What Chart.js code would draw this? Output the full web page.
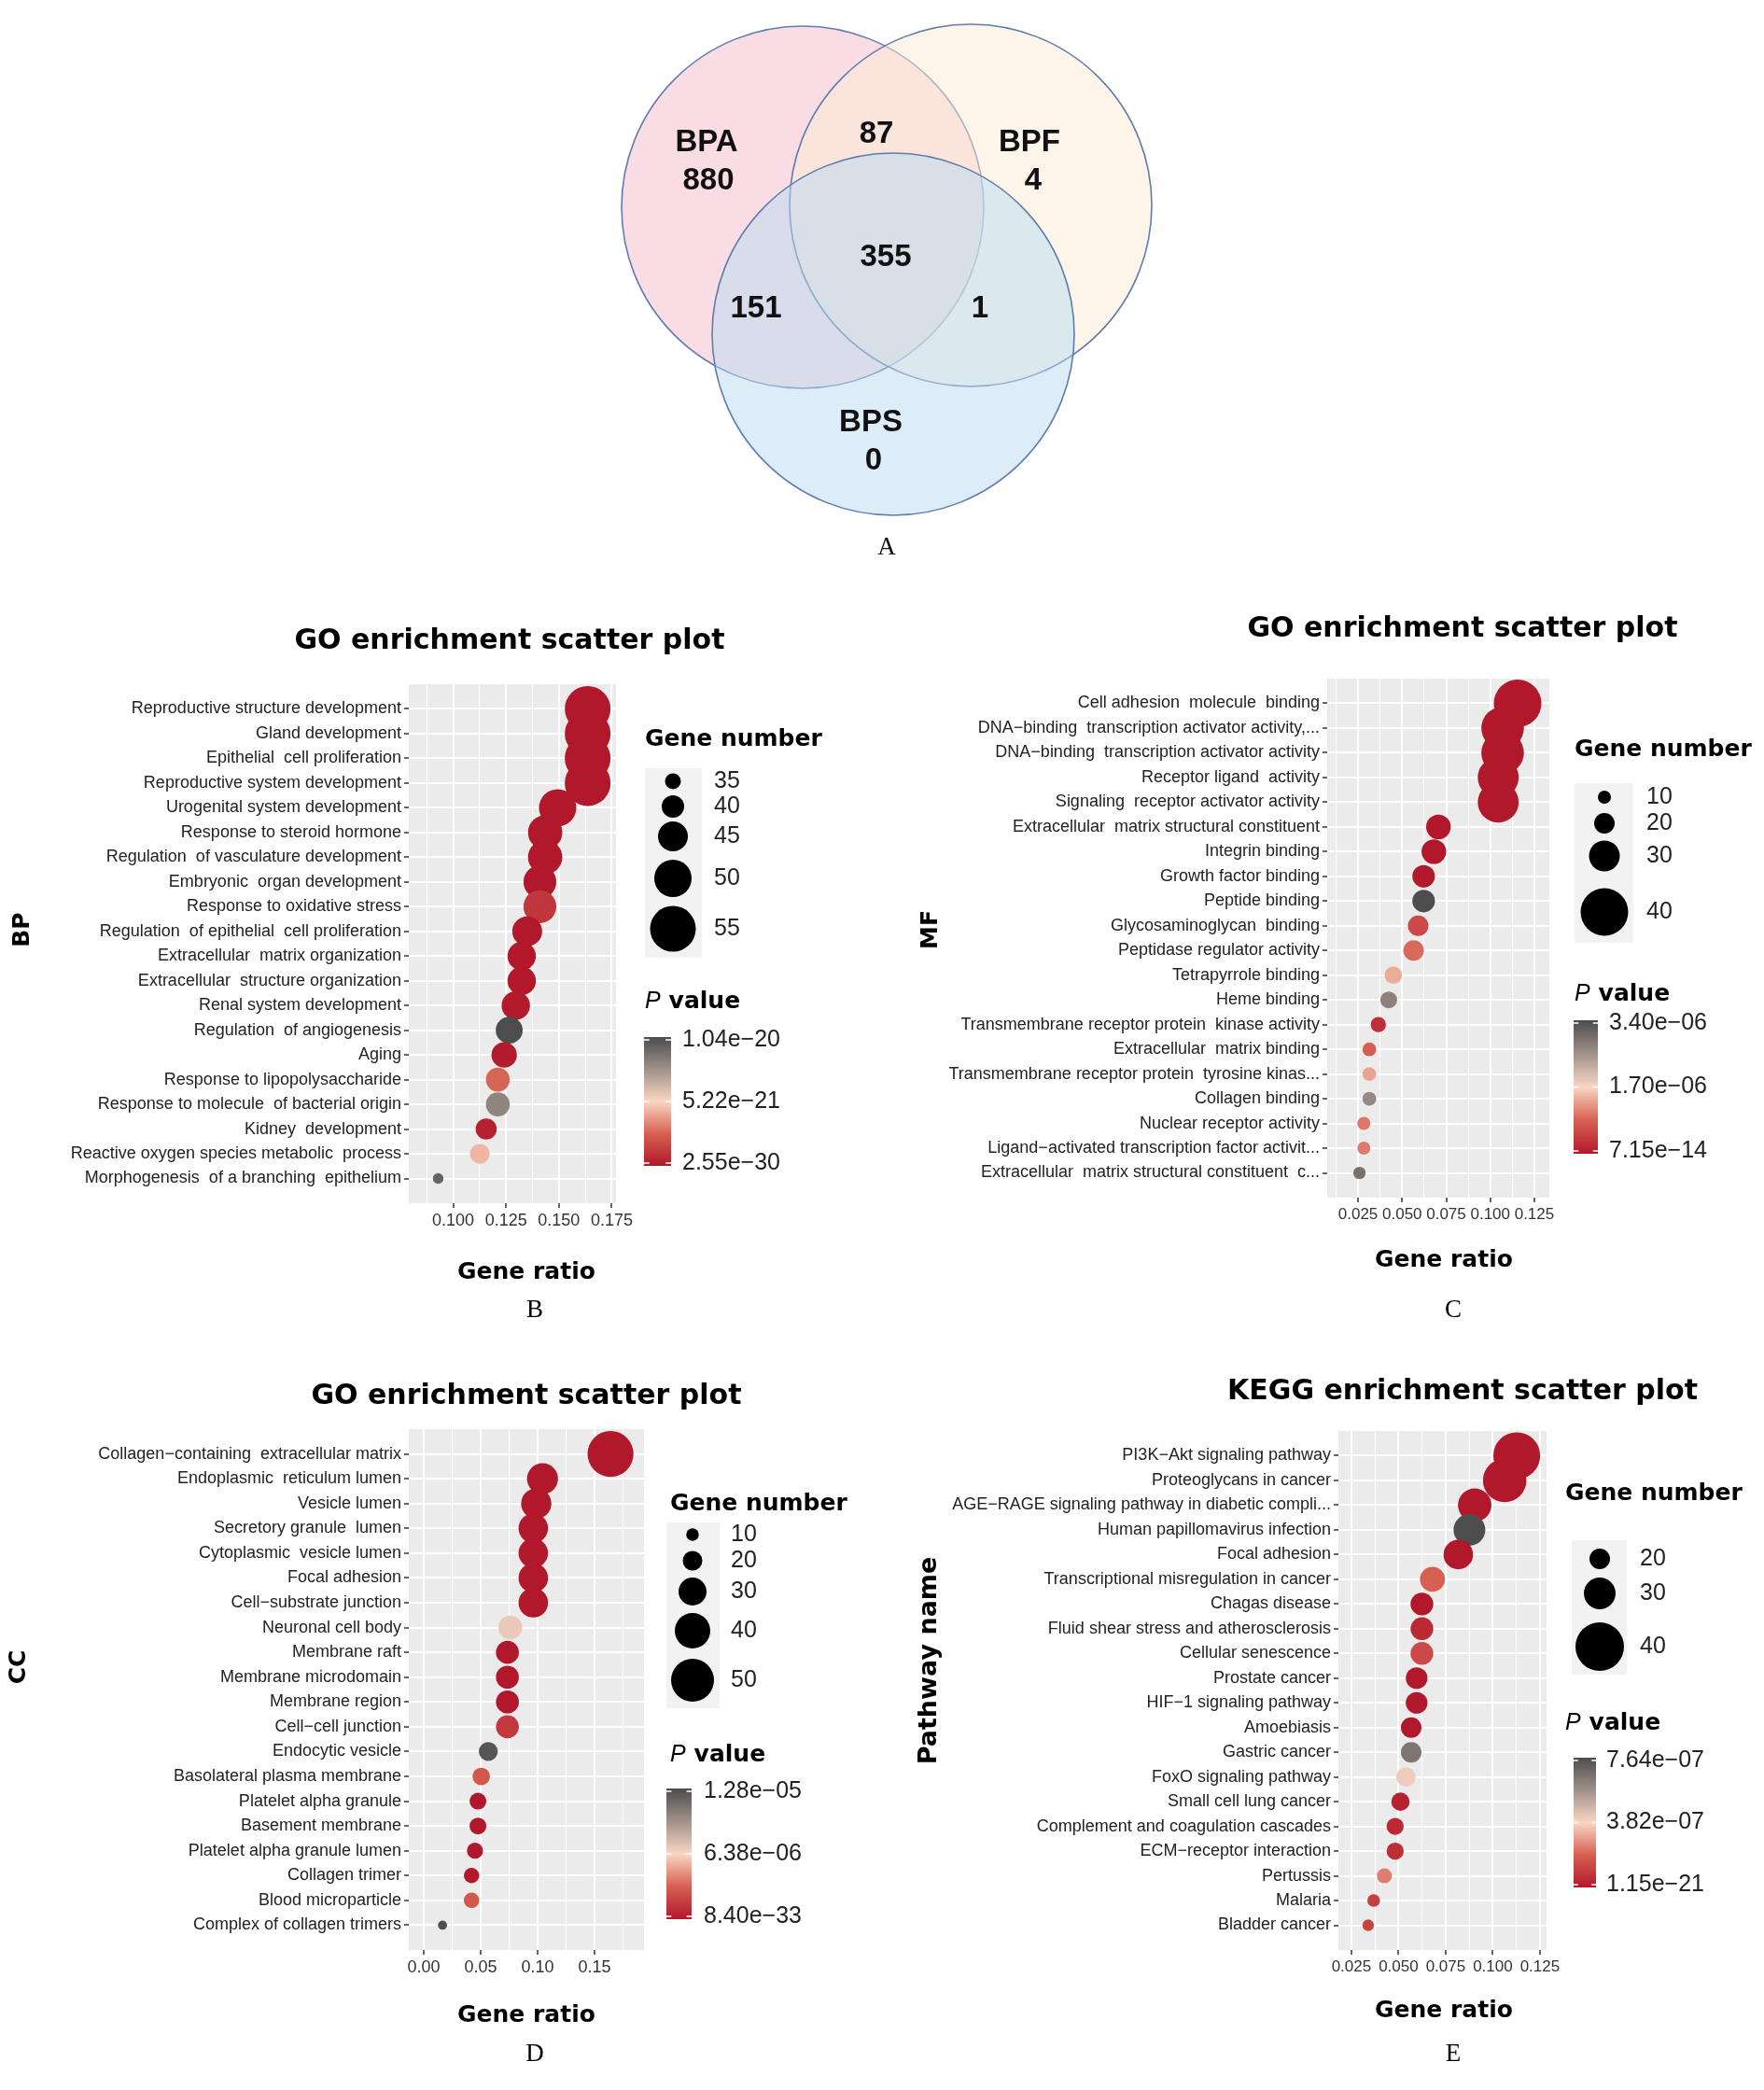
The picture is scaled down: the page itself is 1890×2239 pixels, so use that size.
<!DOCTYPE html>
<html>
<head>
<meta charset="utf-8">
<script src="https://cdn.jsdelivr.net/npm/chart.js"></script>
<style>
html, body { margin: 0; padding: 0; background: #fff; }
body { width: 1890px; height: 2239px; position: relative; overflow: hidden; }
.box { position: absolute; }
</style>
</head>
<body>
<div class="box" style="left:600px;top:0px;width:700px;height:630px"><canvas id="venn"></canvas></div>
<div class="box" style="left:0px;top:640px;width:945px;height:800px"><canvas id="bp"></canvas></div>
<div class="box" style="left:945px;top:630px;width:945px;height:810px"><canvas id="mf"></canvas></div>
<div class="box" style="left:0px;top:1440px;width:945px;height:799px"><canvas id="cc"></canvas></div>
<div class="box" style="left:945px;top:1440px;width:945px;height:799px"><canvas id="kegg"></canvas></div>
<script>
// ---- A: Venn counts
const vennSets = ["BPA", "BPF", "BPS"];
const vennOnly = [880, 4, 0];
const vennPairs = [87, 151, 1];   // BPA&BPF, BPA&BPS, BPF&BPS
const vennAll = 355;

// ---- B: BP
const bpTerms = ["Reproductive structure development", "Gland development", "Epithelial  cell proliferation",
  "Reproductive system development", "Urogenital system development", "Response to steroid hormone",
  "Regulation  of vasculature development", "Embryonic  organ development", "Response to oxidative stress",
  "Regulation  of epithelial  cell proliferation", "Extracellular  matrix organization",
  "Extracellular  structure organization", "Renal system development", "Regulation  of angiogenesis",
  "Aging", "Response to lipopolysaccharide", "Response to molecule  of bacterial origin",
  "Kidney  development", "Reactive oxygen species metabolic  process", "Morphogenesis  of a branching  epithelium"];
const bpRatio = [0.1636, 0.1636, 0.1636, 0.1636, 0.1494, 0.1435, 0.1435, 0.141, 0.141, 0.135,
  0.1324, 0.1324, 0.1296, 0.1265, 0.1241, 0.1211, 0.1211, 0.1156, 0.1126, 0.0929];
const bpCount = [55, 55, 55, 55, 50, 48, 48, 47, 47, 45, 44, 44, 44, 43, 42, 41, 41, 39, 38, 31];
const bpP = [2.55e-30, 3.1e-28, 5.4e-28, 7.9e-28, 2.3e-26, 1.6e-25, 4.9e-25, 1.3e-24, 1.1e-21, 3.8e-24,
  8.6e-24, 1.5e-23, 6.0e-23, 1.04e-20, 1.2e-22, 2.7e-21, 8.3e-21, 3.1e-22, 4.5e-21, 9.6e-21];
const bpSizeBreaks = [35, 40, 45, 50, 55];
const bpPLabels = ["1.04e\u221220", "5.22e\u221221", "2.55e\u221230"];

// ---- C: MF
const mfTerms = ["Cell adhesion  molecule  binding", "DNA\u2212binding  transcription activator activity,...",
  "DNA\u2212binding  transcription activator activity", "Receptor ligand  activity",
  "Signaling  receptor activator activity", "Extracellular  matrix structural constituent",
  "Integrin binding", "Growth factor binding", "Peptide binding", "Glycosaminoglycan  binding",
  "Peptidase regulator activity", "Tetrapyrrole binding", "Heme binding",
  "Transmembrane receptor protein  kinase activity", "Extracellular  matrix binding",
  "Transmembrane receptor protein  tyrosine kinas...", "Collagen binding", "Nuclear receptor activity",
  "Ligand\u2212activated transcription factor activit...", "Extracellular  matrix structural constituent  c..."];
const mfRatio = [0.1155, 0.107, 0.107, 0.1045, 0.1045, 0.0706, 0.068, 0.0622, 0.0622, 0.0591,
  0.0565, 0.045, 0.0424, 0.0365, 0.0314, 0.0314, 0.0314, 0.0283, 0.0283, 0.0258];
const mfCount = [40, 37, 37, 36, 36, 24, 24, 22, 22, 20, 20, 16, 15, 13, 11, 11, 11, 10, 10, 9];
const mfP = [7.15e-14, 2.1e-12, 3.9e-12, 1.6e-11, 2.3e-11, 8.2e-10, 1.5e-9, 6.3e-9, 3.40e-6, 5.8e-7,
  9.2e-7, 1.39e-6, 2.75e-6, 2.7e-7, 8.2e-7, 1.33e-6, 2.65e-6, 1.02e-6, 1.05e-6, 2.96e-6];
const mfSizeBreaks = [10, 20, 30, 40];
const mfPLabels = ["3.40e\u221206", "1.70e\u221206", "7.15e\u221214"];

// ---- D: CC
const ccTerms = ["Collagen\u2212containing  extracellular matrix", "Endoplasmic  reticulum lumen", "Vesicle lumen",
  "Secretory granule  lumen", "Cytoplasmic  vesicle lumen", "Focal adhesion", "Cell\u2212substrate junction",
  "Neuronal cell body", "Membrane raft", "Membrane microdomain", "Membrane region", "Cell\u2212cell junction",
  "Endocytic vesicle", "Basolateral plasma membrane", "Platelet alpha granule", "Basement membrane",
  "Platelet alpha granule lumen", "Collagen trimer", "Blood microparticle", "Complex of collagen trimers"];
const ccRatio = [0.164, 0.1043, 0.0988, 0.0962, 0.0962, 0.0962, 0.0962, 0.076, 0.0735, 0.0735,
  0.0735, 0.0735, 0.0567, 0.0505, 0.0476, 0.0476, 0.045, 0.042, 0.042, 0.0165];
const ccCount = [54, 34, 33, 32, 32, 32, 32, 25, 24, 24, 24, 24, 19, 17, 16, 16, 15, 14, 14, 5];
const ccP = [8.40e-33, 1.1e-20, 3.2e-19, 5.5e-19, 8.7e-18, 2.4e-16, 1.8e-15, 7.0e-6, 2.3e-10, 6.1e-10,
  1.4e-9, 1.4e-6, 1.24e-5, 2.8e-6, 3.9e-9, 5.2e-9, 1.1e-8, 2.6e-8, 2.8e-6, 1.27e-5];
const ccSizeBreaks = [10, 20, 30, 40, 50];
const ccPLabels = ["1.28e\u221205", "6.38e\u221206", "8.40e\u221233"];

// ---- E: KEGG
const keggTerms = ["PI3K\u2212Akt signaling pathway", "Proteoglycans in cancer",
  "AGE\u2212RAGE signaling pathway in diabetic compli...", "Human papillomavirus infection", "Focal adhesion",
  "Transcriptional misregulation in cancer", "Chagas disease", "Fluid shear stress and atherosclerosis",
  "Cellular senescence", "Prostate cancer", "HIF\u22121 signaling pathway", "Amoebiasis", "Gastric cancer",
  "FoxO signaling pathway", "Small cell lung cancer", "Complement and coagulation cascades",
  "ECM\u2212receptor interaction", "Pertussis", "Malaria", "Bladder cancer"];
const keggRatio = [0.1127, 0.1063, 0.0904, 0.0876, 0.0817, 0.068, 0.0624, 0.0624, 0.0624, 0.0596,
  0.0596, 0.0567, 0.0567, 0.0539, 0.051, 0.0482, 0.0482, 0.0425, 0.0368, 0.0339];
const keggCount = [39, 37, 31, 30, 28, 24, 22, 22, 22, 21, 21, 20, 20, 19, 18, 17, 17, 15, 13, 12];
const keggP = [1.15e-21, 3.2e-20, 1.1e-14, 7.64e-7, 4.1e-13, 1.9e-7, 2e-10, 4.6e-8, 1.3e-7, 3e-10,
  5e-10, 8e-10, 6.5e-7, 4.1e-7, 2.3e-8, 4.6e-8, 6.1e-8, 2.4e-7, 1.07e-7, 1.15e-7];
const keggSizeBreaks = [20, 30, 40];
const keggPLabels = ["7.64e\u221207", "3.82e\u221207", "1.15e\u221221"];

// colour ramp for P value (low red -> peach -> dark grey)
const ramp = [[0, [178, 24, 43]], [0.25, [214, 96, 82]], [0.5, [250, 214, 196]], [0.75, [160, 145, 138]], [1, [77, 77, 77]]];
function rampColor(t) {
  t = Math.max(0, Math.min(1, t));
  for (let i = 1; i < ramp.length; i++) {
    if (t <= ramp[i][0]) {
      const [t0, c0] = ramp[i - 1], [t1, c1] = ramp[i];
      const f = (t - t0) / (t1 - t0);
      return 'rgb(' + c0.map((v, k) => Math.round(v + (c1[k] - v) * f)).join(',') + ')';
    }
  }
  return 'rgb(77,77,77)';
}
// diameter from gene count, piecewise through the legend keys
function sizeOf(n, br, d) {
  let i = 1;
  while (i < br.length - 1 && n > br[i]) i++;
  const f = (n - br[i - 1]) / (br[i] - br[i - 1]);
  return Math.max(6, d[i - 1] + f * (d[i] - d[i - 1]));
}
const isMajor = (v, majors) => majors.some(m => Math.abs(m - v) < 1e-9);

function decor(s) {
  return {
    id: 'decor',
    beforeDraw(chart) {
      const {ctx, chartArea: a} = chart;
      ctx.save();
      ctx.fillStyle = '#EBEBEB';
      ctx.fillRect(a.left, a.top, a.right - a.left, a.bottom - a.top);
      ctx.restore();
    },
    afterDraw(chart) {
      const ctx = chart.ctx;
      const L = s.legend;
      ctx.save();
      ctx.translate(-s.box[0], -s.box[1]);
      ctx.textBaseline = 'middle';
      ctx.textAlign = 'center';
      ctx.fillStyle = '#000';
      ctx.font = 'bold 30px "DejaVu Sans"';
      ctx.fillText(s.title, s.titlePos[0], s.titlePos[1]);
      ctx.font = 'bold 25px "DejaVu Sans"';
      ctx.fillText('Gene ratio', s.xTitlePos[0], s.xTitlePos[1]);
      ctx.font = '27px "Liberation Serif"';
      ctx.fillText(s.letter, s.letterPos[0], s.letterPos[1]);
      ctx.save();
      ctx.translate(s.yTitlePos[0], s.yTitlePos[1]);
      ctx.rotate(-Math.PI / 2);
      ctx.font = 'bold ' + s.yTitleSize + 'px "DejaVu Sans"';
      ctx.fillText(s.yTitle, 0, 0);
      ctx.restore();

      // size legend
      ctx.textAlign = 'left';
      ctx.font = 'bold 25px "DejaVu Sans"';
      ctx.fillText('Gene number', L.titleX, L.sizeTitleY);
      ctx.fillStyle = '#F2F2F2';
      ctx.fillRect(L.keyBox[0], L.keyBox[1], L.keyBox[2] - L.keyBox[0], L.keyBox[3] - L.keyBox[1]);
      s.sizeBreaks.forEach((b, i) => {
        ctx.fillStyle = '#000';
        ctx.beginPath();
        ctx.arc(L.keyX, L.keyY[i], sizeOf(b, s.sizeBreaks, s.sizeDiam) / 2, 0, Math.PI * 2);
        ctx.fill();
        ctx.fillStyle = '#222';
        ctx.font = '25px "Liberation Sans"';
        ctx.fillText(String(b), L.labelX, L.keyY[i]);
      });

      // P value colourbar
      ctx.fillStyle = '#000';
      ctx.font = 'italic 25px "Liberation Sans"';
      ctx.fillText('P', L.titleX, L.pTitleY);
      const wP = ctx.measureText('P ').width;
      ctx.font = 'bold 25px "DejaVu Sans"';
      ctx.fillText('value', L.titleX + wP + 2, L.pTitleY);
      const [x0, y0, x1, y1] = L.bar;
      const g = ctx.createLinearGradient(0, y1, 0, y0);
      ramp.forEach(([t]) => g.addColorStop(t, rampColor(t)));
      ctx.fillStyle = g;
      ctx.fillRect(x0, y0, x1 - x0, y1 - y0);
      ctx.strokeStyle = '#fff';
      ctx.lineWidth = 1.5;
      const tl = (x1 - x0) / 5;
      ctx.font = '25px "Liberation Sans"';
      s.pLabels.forEach((lab, i) => {
        const y = y0 + 3 + i * (y1 - y0 - 6) / 2;
        ctx.beginPath();
        ctx.moveTo(x0, y); ctx.lineTo(x0 + tl, y);
        ctx.moveTo(x1 - tl, y); ctx.lineTo(x1, y);
        ctx.stroke();
        ctx.fillStyle = '#222';
        ctx.fillText(lab, L.barLabelX, y);
      });
      ctx.restore();
    }
  };
}

function makePanel(canvasId, s) {
  const n = s.terms.length;
  const [bx, by, bw, bh] = s.box;
  const [ax0, ax1, ay0, ay1] = s.area;
  const allTicks = s.majors.concat(s.minors).sort((a, b) => a - b);
  new Chart(document.getElementById(canvasId), {
    type: 'scatter',
    data: {
      datasets: [{
        data: s.ratio.map((r, i) => ({x: r, y: n - i})),
        pointRadius: c => sizeOf(s.count[c.dataIndex], s.sizeBreaks, s.sizeDiam) / 2,
        pointBackgroundColor: c => rampColor(s.p[c.dataIndex] / s.pMax),
        pointBorderWidth: 0,
        clip: false
      }]
    },
    options: {
      responsive: true,
      maintainAspectRatio: false,
      animation: false,
      events: [],
      layout: {autoPadding: false, padding: {left: 0, top: ay0 - by, right: bx + bw - ax1, bottom: 0}},
      plugins: {legend: {display: false}, tooltip: {enabled: false}},
      scales: {
        x: {
          type: 'linear', min: s.xRange[0], max: s.xRange[1],
          afterBuildTicks: sc => { sc.ticks = allTicks.map(v => ({value: v})); },
          afterFit: sc => { sc.height = by + bh - ay1; },
          border: {display: false},
          grid: {
            color: '#fff',
            lineWidth: c => isMajor(c.tick.value, s.majors) ? 2 : 1,
            tickColor: c => isMajor(c.tick.value, s.majors) ? '#333' : 'rgba(0,0,0,0)',
            tickLength: 5, tickWidth: 1.5
          },
          ticks: {
            autoSkip: false, maxRotation: 0, padding: 3, color: '#333',
            font: {family: 'Liberation Sans', size: s.xTickSize},
            callback: v => isMajor(v, s.majors) ? v.toFixed(s.dec) : ''
          }
        },
        y: {
          type: 'linear', min: 0, max: n + 1,
          afterBuildTicks: sc => { sc.ticks = s.terms.map((t, i) => ({value: n - i})); },
          afterFit: sc => { sc.width = ax0 - bx; },
          border: {display: false},
          grid: {color: '#fff', lineWidth: 2, tickColor: '#333', tickLength: 5, tickWidth: 1.5},
          ticks: {
            autoSkip: false, padding: 3, color: '#222',
            font: {family: 'Liberation Sans', size: 18},
            callback: v => s.terms[n - Math.round(v)]
          }
        }
      }
    },
    plugins: [decor(s)]
  });
}

// ---- Venn
const vennCenters = [[860, 222], [1040, 220], [957, 358]];
const vennFill = ['rgba(245,187,201,0.5)', 'rgba(251,235,213,0.5)', 'rgba(185,219,241,0.5)'];
const vennNamePos = [[757, 153], [1103, 153], [933, 453]];
const vennOnlyPos = [[759, 194], [1107, 194], [936, 494]];
const vennPairPos = [[939, 144], [810, 331], [1050, 331]];
const vennAllPos = [949, 276];

new Chart(document.getElementById('venn'), {
  type: 'scatter',
  data: {
    datasets: [{
      data: vennCenters.map(c => ({x: c[0], y: c[1]})),
      pointRadius: 194,
      pointBackgroundColor: vennFill,
      pointBorderColor: 'rgb(95,125,175)',
      pointBorderWidth: 1.6,
      clip: false
    }]
  },
  options: {
    responsive: true, maintainAspectRatio: false, animation: false, events: [],
    layout: {autoPadding: false, padding: 0},
    plugins: {legend: {display: false}, tooltip: {enabled: false}},
    scales: {
      x: {type: 'linear', display: false, min: 600, max: 1300},
      y: {type: 'linear', display: false, min: 0, max: 630, reverse: true}
    }
  },
  plugins: [{
    id: 'vennText',
    afterDraw(chart) {
      const ctx = chart.ctx, sx = chart.scales.x, sy = chart.scales.y;
      const put = (txt, p) => ctx.fillText(txt, sx.getPixelForValue(p[0]), sy.getPixelForValue(p[1]));
      ctx.save();
      ctx.fillStyle = '#111';
      ctx.textAlign = 'center';
      ctx.textBaseline = 'middle';
      ctx.font = 'bold 33px "Liberation Sans"';
      vennSets.forEach((name, i) => { put(name, vennNamePos[i]); put(String(vennOnly[i]), vennOnlyPos[i]); });
      vennPairs.forEach((v, i) => put(String(v), vennPairPos[i]));
      put(String(vennAll), vennAllPos);
      ctx.font = '27px "Liberation Serif"';
      put('A', [950, 587]);
      ctx.restore();
    }
  }]
});

makePanel('bp', {
  terms: bpTerms, ratio: bpRatio, count: bpCount, p: bpP, pMax: 1.04e-20, pLabels: bpPLabels,
  sizeBreaks: bpSizeBreaks, sizeDiam: [17, 24, 32, 40, 49],
  box: [0, 640, 945, 800], area: [438, 660, 733, 1289], xRange: [0.079, 0.177],
  majors: [0.1, 0.125, 0.15, 0.175], minors: [0.0875, 0.1125, 0.1375, 0.1625], dec: 3, xTickSize: 18,
  title: 'GO enrichment scatter plot', titlePos: [546, 687],
  yTitle: 'BP', yTitleSize: 25, yTitlePos: [24, 996], xTitlePos: [564, 1363],
  letter: 'B', letterPos: [573, 1404],
  legend: {titleX: 691, sizeTitleY: 792, keyBox: [691, 823, 752, 1026], keyX: 721,
    keyY: [837, 864, 896, 941, 995], labelX: 765, pTitleY: 1073, bar: [690, 1111, 719, 1249], barLabelX: 731}
});

makePanel('mf', {
  terms: mfTerms, ratio: mfRatio, count: mfCount, p: mfP, pMax: 3.40e-6, pLabels: mfPLabels,
  sizeBreaks: mfSizeBreaks, sizeDiam: [14, 22, 33, 51],
  box: [945, 630, 945, 810], area: [1422, 1660, 727, 1283], xRange: [0.0075, 0.1335],
  majors: [0.025, 0.05, 0.075, 0.1, 0.125], minors: [0.0125, 0.0375, 0.0625, 0.0875, 0.1125], dec: 3, xTickSize: 17,
  title: 'GO enrichment scatter plot', titlePos: [1567, 674],
  yTitle: 'MF', yTitleSize: 25, yTitlePos: [997, 996], xTitlePos: [1547, 1350],
  letter: 'C', letterPos: [1557, 1404],
  legend: {titleX: 1687, sizeTitleY: 803, keyBox: [1687, 839, 1750, 1010], keyX: 1719,
    keyY: [854, 882, 917, 977], labelX: 1764, pTitleY: 1065, bar: [1686, 1093, 1712, 1236], barLabelX: 1724}
});

makePanel('cc', {
  terms: ccTerms, ratio: ccRatio, count: ccCount, p: ccP, pMax: 1.28e-5, pLabels: ccPLabels,
  sizeBreaks: ccSizeBreaks, sizeDiam: [13.5, 21, 30, 38, 46],
  box: [0, 1440, 945, 799], area: [438, 690, 1531, 2089], xRange: [-0.0131, 0.1934],
  majors: [0, 0.05, 0.1, 0.15], minors: [0.025, 0.075, 0.125, 0.175], dec: 2, xTickSize: 18,
  title: 'GO enrichment scatter plot', titlePos: [564, 1496],
  yTitle: 'CC', yTitleSize: 25, yTitlePos: [20, 1786], xTitlePos: [564, 2159],
  letter: 'D', letterPos: [573, 2201],
  legend: {titleX: 718, sizeTitleY: 1611, keyBox: [714, 1631, 771, 1830], keyX: 742,
    keyY: [1644, 1672, 1705, 1747, 1800], labelX: 783, pTitleY: 1880, bar: [714, 1916, 741, 2056], barLabelX: 754}
});

makePanel('kegg', {
  terms: keggTerms, ratio: keggRatio, count: keggCount, p: keggP, pMax: 7.64e-7, pLabels: keggPLabels,
  sizeBreaks: keggSizeBreaks, sizeDiam: [22, 34, 52],
  box: [945, 1440, 945, 799], area: [1434, 1657, 1533, 2089], xRange: [0.0181, 0.1285],
  majors: [0.025, 0.05, 0.075, 0.1, 0.125], minors: [0.0375, 0.0625, 0.0875, 0.1125], dec: 3, xTickSize: 17,
  title: 'KEGG enrichment scatter plot', titlePos: [1567, 1491],
  yTitle: 'Pathway name', yTitleSize: 27, yTitlePos: [996, 1779], xTitlePos: [1547, 2154],
  letter: 'E', letterPos: [1557, 2201],
  legend: {titleX: 1677, sizeTitleY: 1600, keyBox: [1684, 1650, 1743, 1794], keyX: 1714,
    keyY: [1670, 1707, 1764], labelX: 1757, pTitleY: 1846, bar: [1686, 1883, 1710, 2022], barLabelX: 1721}
});
</script>
</body>
</html>
